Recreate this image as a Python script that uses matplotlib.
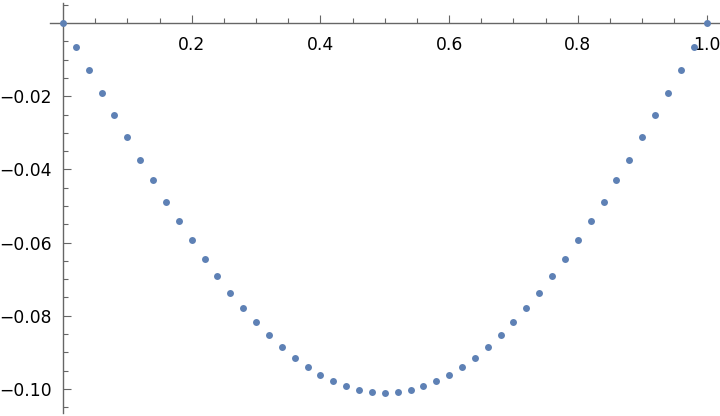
import numpy as np
import matplotlib
matplotlib.use("Agg")
import matplotlib.pyplot as plt
from matplotlib.ticker import FixedLocator, FuncFormatter

x_vals = [0.00, 0.02, 0.04, 0.06, 0.08, 0.10, 0.12, 0.14, 0.16, 0.18,
          0.20, 0.22, 0.24, 0.26, 0.28, 0.30, 0.32, 0.34, 0.36, 0.38,
          0.40, 0.42, 0.44, 0.46, 0.48, 0.50, 0.52, 0.54, 0.56, 0.58,
          0.60, 0.62, 0.64, 0.66, 0.68, 0.70, 0.72, 0.74, 0.76, 0.78,
          0.80, 0.82, 0.84, 0.86, 0.88, 0.90, 0.92, 0.94, 0.96, 0.98, 1.00]
y_vals = [0.0000, -0.0065, -0.0127, -0.0190, -0.0250, -0.0312, -0.0374, -0.0430, -0.0488, -0.0542,
          -0.0594, -0.0645, -0.0692, -0.0737, -0.0780, -0.0817, -0.0853, -0.0885, -0.0915, -0.0940,
          -0.0962, -0.0978, -0.0992, -0.1003, -0.1008, -0.1012, -0.1008, -0.1003, -0.0992, -0.0978,
          -0.0962, -0.0940, -0.0915, -0.0885, -0.0853, -0.0817, -0.0780, -0.0737, -0.0692, -0.0645,
          -0.0594, -0.0542, -0.0488, -0.0430, -0.0374, -0.0312, -0.0250, -0.0190, -0.0127, -0.0065, 0.0000]

# tick positions and labels
x_major = [0.2, 0.4, 0.6, 0.8, 1.0]
x_minor = [0.05, 0.10, 0.15, 0.25, 0.30, 0.35, 0.45, 0.50, 0.55,
           0.65, 0.70, 0.75, 0.85, 0.90, 0.95]
y_major = [-0.02, -0.04, -0.06, -0.08, -0.10]
y_minor = [0.005, -0.005, -0.010, -0.015, -0.025, -0.030, -0.035, -0.045, -0.050, -0.055,
           -0.065, -0.070, -0.075, -0.085, -0.090, -0.095, -0.105]

axis_col = "#666666"
dot_col = "#5E81B5"

fig = plt.figure(figsize=(7.2, 4.16), dpi=100)
ax = fig.add_axes([0, 0, 1, 1])
ax.set_facecolor("white")

ax.plot(x_vals, y_vals, "o", color=dot_col, markersize=5.0, markeredgewidth=0, zorder=3, clip_on=False)

ax.set_xlim(-0.0979, 1.0209)
ax.set_ylim(-0.1074, 0.0063)

### axes through the origin ###
for side in ["top", "right"]:
    ax.spines[side].set_visible(False)
ax.spines["left"].set_position(("data", 0))
ax.spines["bottom"].set_position(("data", 0))
ax.spines["left"].set_bounds(-0.1066, 0.0054)
ax.spines["bottom"].set_bounds(-0.0202, 1.0209)
for side in ["left", "bottom"]:
    ax.spines[side].set_color(axis_col)
    ax.spines[side].set_linewidth(1.0)

ax.xaxis.set_major_locator(FixedLocator(x_major))
ax.xaxis.set_minor_locator(FixedLocator(x_minor))
ax.yaxis.set_major_locator(FixedLocator(y_major))
ax.yaxis.set_minor_locator(FixedLocator(y_minor))
ax.xaxis.set_major_formatter(FuncFormatter(lambda v, p: "%.1f" % v))
ax.yaxis.set_major_formatter(FuncFormatter(lambda v, p: ("%.2f" % v).replace("-", "\u2212")))

ax.tick_params(which="both", direction="in", color=axis_col, width=0.8, labelsize=12.3, labelcolor="black")
ax.tick_params(which="major", length=6, pad=9)
ax.tick_params(which="minor", length=3.5)
ax.tick_params(axis="y", which="major", pad=8)

fig.savefig("out.png", dpi=100)
